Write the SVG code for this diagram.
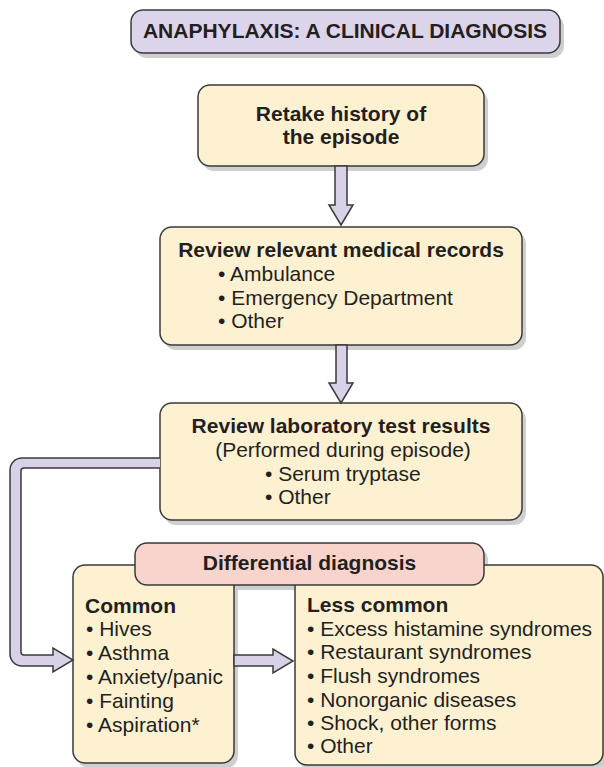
<svg xmlns="http://www.w3.org/2000/svg" width="604" height="767" viewBox="0 0 604 767">
<style>
.box{fill:#fdf1d2;stroke:#3a3a3a;stroke-width:1.5}
.title{fill:#dcd4ea;stroke:#3a3a3a;stroke-width:1.5}
.pink{fill:#f9d4cd;stroke:#3a3a3a;stroke-width:1.5}
.sh{fill:#cfcfcf}
.arr{fill:#d9d1e8;stroke:#3a3a3a;stroke-width:1.5;stroke-linejoin:miter}
text{font-family:"Liberation Sans",Arial,Helvetica,sans-serif;font-size:21px;fill:#231f20}
.b{font-weight:bold}
.c{text-anchor:middle}
</style>
<rect width="604" height="767" fill="#ffffff"/>
<g id="shadows">
<rect class="sh" x="135" y="15" width="429" height="43" rx="12"/>
<rect class="sh" x="202" y="90" width="286" height="81" rx="12"/>
<rect class="sh" x="164" y="232" width="362" height="118" rx="12"/>
<rect class="sh" x="164" y="408" width="362" height="117" rx="12"/>
<rect class="sh" x="139" y="548" width="349" height="42" rx="12"/>
<rect class="sh" x="77" y="570" width="161" height="198" rx="12"/>
<rect class="sh" x="299" y="570" width="308" height="200" rx="12"/>
</g>
<g id="title">
<rect class="title" x="131" y="10" width="429" height="43" rx="12"/>
<text class="b c" x="345" y="38">ANAPHYLAXIS: A CLINICAL DIAGNOSIS</text>
</g>
<g id="retake">
<rect class="box" x="198" y="85" width="286" height="81" rx="12"/>
<text class="b c" x="341" y="121">Retake history of</text>
<text class="b c" x="341" y="144">the episode</text>
</g>
<g id="records">
<rect class="box" x="160" y="227" width="362" height="118" rx="12"/>
<text class="b c" x="341" y="257">Review relevant medical records</text>
<text x="218" y="281">• Ambulance</text>
<text x="218" y="305">• Emergency Department</text>
<text x="218" y="328">• Other</text>
</g>
<g id="lab">
<rect class="box" x="160" y="403" width="362" height="117" rx="12"/>
<text class="b c" x="341" y="433">Review laboratory test results</text>
<text class="c" x="343" y="457">(Performed during episode)</text>
<text x="265" y="481">• Serum tryptase</text>
<text x="265" y="504">• Other</text>
</g>
<g id="common">
<rect class="box" x="73" y="565" width="161" height="198" rx="12"/>
<text class="b" x="85" y="613">Common</text>
<text x="86" y="636">• Hives</text>
<text x="86" y="660">• Asthma</text>
<text x="86" y="684">• Anxiety/panic</text>
<text x="86" y="708">• Fainting</text>
<text x="86" y="732">• Aspiration*</text>
</g>
<g id="lesscommon">
<rect class="box" x="295" y="565" width="308" height="200" rx="12"/>
<text class="b" x="307" y="612">Less common</text>
<text x="307" y="636">• Excess histamine syndromes</text>
<text x="307" y="659">• Restaurant syndromes</text>
<text x="307" y="683">• Flush syndromes</text>
<text x="307" y="707">• Nonorganic diseases</text>
<text x="307" y="730">• Shock, other forms</text>
<text x="307" y="753">• Other</text>
</g>
<g id="differential">
<rect class="pink" x="135" y="543" width="349" height="42" rx="12"/>
<text class="b c" x="309.5" y="570">Differential diagnosis</text>
</g>
<g id="connectors">
<polygon class="arr" points="335,166 335,205 329,205 341,225 353,205 347,205 347,166"/>
<polygon class="arr" points="336,345 336,383 329,383 341,403 353,383 347,383 347,345"/>
<polygon class="arr" points="234,655 273,655 273,649 293,661 273,673 273,666 234,666"/>
<path class="arr" d="M160,458 H22 A12,12 0 0 0 10,470 V654 A12,12 0 0 0 22,666 H53 V672 L73,660 L53,648 V655 H24 A3,3 0 0 1 21,652 V471 A3,3 0 0 1 24,468 H160"/>
</g>
</svg>
